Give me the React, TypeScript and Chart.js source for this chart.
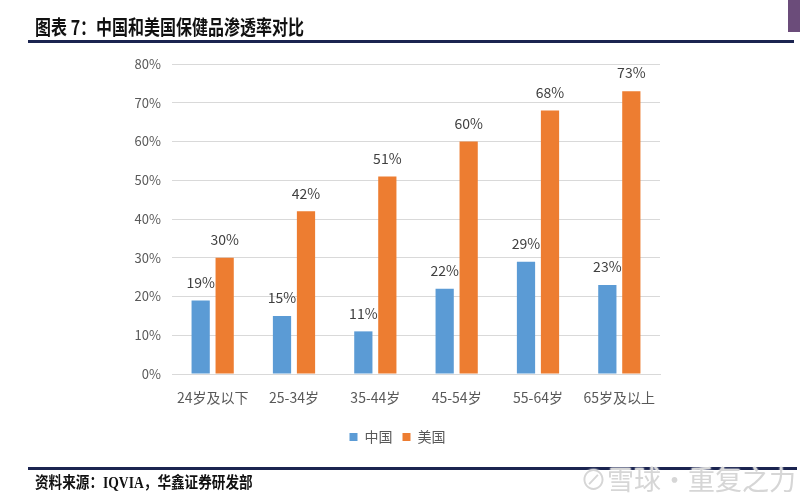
import React, { useEffect, useRef } from "react";
import { Chart, registerables } from "chart.js";

Chart.register(...registerables);

const categories = ["24岁及以下", "25-34岁", "35-44岁", "45-54岁", "55-64岁", "65岁及以上"];
const chinaValues = [19, 15, 11, 22, 29, 23];
const usValues = [30, 42, 51, 60, 68, 73];
const seriesNames = ["中国", "美国"];
const yTickMax = 80;
const yTickStep = 10;

const FONT = "'Noto Sans CJK SC', 'Noto Sans', sans-serif";
const TEXT = "#595959";

const valueLabels = {
  id: "valueLabels",
  afterDatasetsDraw(chart: any) {
    const ctx = chart.ctx;
    ctx.save();
    ctx.font = `14px ${FONT}`;
    ctx.fillStyle = "#404040";
    ctx.textAlign = "center";
    ctx.textBaseline = "middle";
    chart.data.datasets.forEach((ds: any, di: number) => {
      const meta = chart.getDatasetMeta(di);
      meta.data.forEach((el: any, i: number) => {
        ctx.fillText(ds.data[i] + "%", el.x, el.y - 18);
      });
    });
    ctx.restore();
  },
};

export default function App() {
  const ref = useRef<HTMLCanvasElement>(null);
  useEffect(() => {
    if (!ref.current) return;
    const chart = new Chart(ref.current, {
      type: "bar",
      data: {
        labels: categories,
        datasets: [
          { label: seriesNames[0], data: chinaValues, backgroundColor: "#5B9BD5" },
          { label: seriesNames[1], data: usValues, backgroundColor: "#ED7D31" },
        ],
      },
      options: {
        responsive: false,
        animation: false,
        devicePixelRatio: 1,
        layout: { padding: { left: 112, right: 117, top: 64, bottom: 43 } },
        datasets: { bar: { categoryPercentage: 0.59, barPercentage: 0.76 } },
        scales: {
          x: {
            grid: { display: false, drawTicks: false },
            border: { color: "#D9D9D9", width: 1 },
            ticks: { color: TEXT, font: { family: FONT, size: 14 }, padding: 15 },
            afterFit: (s: any) => { s.height = 46; },
          },
          y: {
            min: 0,
            max: yTickMax,
            grid: { color: "#D9D9D9", drawTicks: false },
            border: { display: false },
            ticks: {
              stepSize: yTickStep,
              color: TEXT,
              font: { family: FONT, size: 13 },
              padding: 11,
              callback: (v: any) => v + "%",
            },
            afterFit: (s: any) => { s.width = 60; },
          },
          yRight: {
            position: "right",
            display: true,
            grid: { display: false, drawTicks: false },
            border: { display: false },
            ticks: { display: false },
            afterFit: (s: any) => { s.width = 23; },
          },
        },
        plugins: {
          legend: {
            position: "bottom",
            labels: {
              boxWidth: 8,
              boxHeight: 8,
              color: TEXT,
              font: { family: FONT, size: 14 },
              padding: 10,
            },
          },
          tooltip: { enabled: false },
        },
      } as any,
      plugins: [valueLabels],
    });
    return () => chart.destroy();
  }, []);

  return (
    <div style={{ position: "absolute", left: 0, top: 0, width: 800, height: 497, background: "#fff", overflow: "hidden" }}>
      <canvas ref={ref} width={800} height={497} style={{ position: "absolute", left: 0, top: 0, width: 800, height: 497 }} />
      <div style={{ position: "absolute", left: 35, top: 14, fontFamily: FONT, fontWeight: 700, fontSize: 20, color: "#111", whiteSpace: "nowrap", transform: "scaleX(0.8)", transformOrigin: "left top", lineHeight: "26px" }}>
        图表 7：中国和美国保健品渗透率对比
      </div>
      <div style={{ position: "absolute", left: 28, top: 40, width: 766, height: 3, background: "#1B2450" }} />
      <div style={{ position: "absolute", left: 788, top: 0, width: 12, height: 32, background: "#6B4C7A" }} />
      <div style={{ position: "absolute", left: 28, top: 467, width: 769, height: 3, background: "#1B2450" }} />
      <div style={{ position: "absolute", left: 35, top: 472, fontFamily: "'Liberation Serif', 'Noto Sans CJK SC', serif", fontWeight: 700, fontSize: 16, color: "#111", whiteSpace: "nowrap", transform: "scaleX(0.85)", transformOrigin: "left top", lineHeight: "22px" }}>
        资料来源：IQVIA，华鑫证券研发部
      </div>
      <div style={{ position: "absolute", left: 580, top: 462, fontFamily: FONT, fontSize: 27, color: "#d6d6d6", whiteSpace: "nowrap", lineHeight: "34px", textShadow: "0 0 2px #fff, 0 0 2px #fff" }}>
        ⊘雪球·重复之力
      </div>
    </div>
  );
}
